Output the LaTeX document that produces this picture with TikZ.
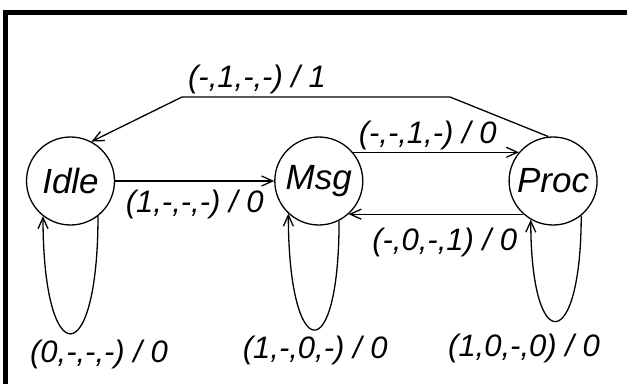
\documentclass[tikz,border=0pt]{standalone}
\usepackage{fontspec}
\setmainfont{Liberation Sans}
\usepackage{tikz}
\usetikzlibrary{arrows.meta, positioning}

\begin{document}
\begin{tikzpicture}[
			x=1pt, y=1pt,
			node distance=159pt,
			% Styles des etats
			etat/.style={draw=black, circle, line width=1.3pt, minimum size=88pt, inner sep=0pt, font=\fontsize{35}{40}\selectfont\itshape},
			etiquette/.style={inner sep=2pt, font=\fontsize{31}{36}\selectfont\itshape},
			fleche/.style={-{Straight Barb[length=11pt, width=10pt, line width=1.3pt]}, line width=1.3pt},
			boucle/.style={fleche, out=-90, in=-90},
			]

			\useasboundingbox (0,0) rectangle (627,384);
			\draw[line width=4.5pt] (5.5,0) -- (5.5,371.5) -- (627,371.5);
			
			
			\node[etat] (Idle) at (70.5,203) {Idle};
			\node[etat, right=of Idle] (Msg) {Msg};
			\node[etat, right=145pt of Msg] (Proc) {Proc};
			
			
			\draw[fleche] (Idle) -- node[etiquette, below=6pt] {(1,-,-,-) / 0} (Msg);
			\draw[fleche] (Msg.40) -- node[etiquette, above, pos=0.45] {(-,-,1,-) / 0} (Proc.140);
			\draw[fleche] (Proc.228) -- node[etiquette, below=11pt, pos=0.45] {(-,0,-,1) / 0} (Msg.312);
			\draw[fleche] (Proc.96) -- (450,287) -- node[etiquette, above, pos=0.72] {(-,1,-,-) / 1} (182,287) -- (Idle.62);
			
			
			\draw[boucle, looseness=7.3] (Idle.308) to node[etiquette, below=4pt, pos=0.5, xshift=28.5pt] {(0,-,-,-) / 0} (Idle.232);
			\draw[boucle, looseness=7.5] (Msg.297) to node[etiquette, below=4pt, pos=0.5, xshift=1.5pt] {(1,-,0,-) / 0} (Msg.227);
			\draw[boucle, looseness=7] (Proc.309) to node[etiquette, below=10pt, pos=0.5, xshift=-32pt] {(1,0,-,0) / 0} (Proc.240);
			
		\end{tikzpicture}
\end{document}
